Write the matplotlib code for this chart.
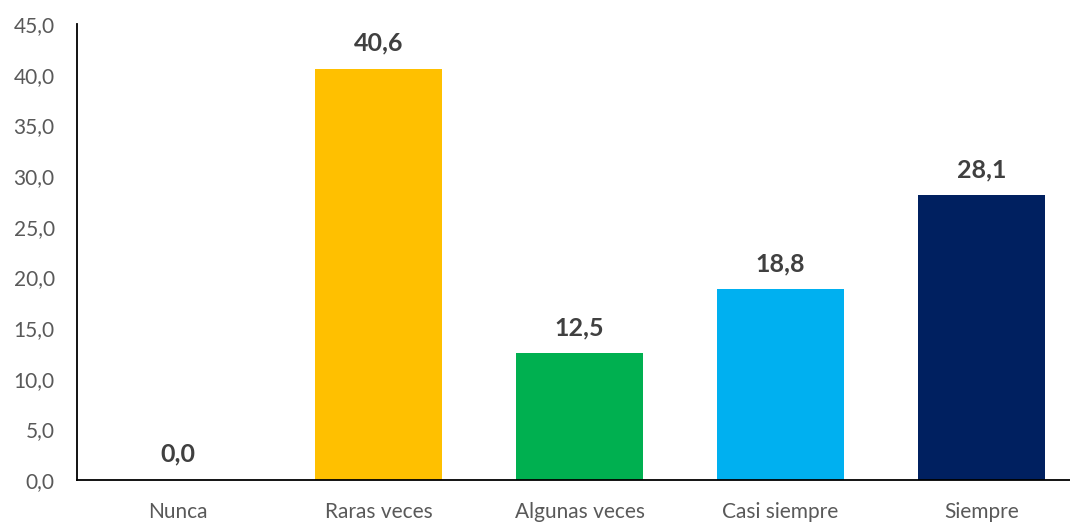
import matplotlib.pyplot as plt

# ================= 数据 =================
CATEGORIES = ["Nunca", "Raras veces", "Algunas veces", "Casi siempre", "Siempre"]
VALUES = [0.0, 40.6, 12.5, 18.8, 28.1]
COLORS = ["#FFC000", "#FFC000", "#00B050", "#00B0F0", "#002060"]
Y_TICKS = [0, 5, 10, 15, 20, 25, 30, 35, 40, 45]

plt.rcParams["font.family"] = ["Lato", "DejaVu Sans"]


def fmt(v):
    return f"{v:.1f}".replace(".", ",")


fig = plt.figure(figsize=(10.70, 5.22), dpi=100)
ax = fig.add_axes([77 / 1070, 42 / 522, 993 / 1070, 456 / 522])

x = range(len(CATEGORIES))
ax.bar(x, VALUES, width=0.63, color=COLORS)

for xi, v in zip(x, VALUES):
    ax.text(xi, v + 1.4, fmt(v), ha="center", va="bottom",
            fontsize=18, fontweight="bold", color="#404040")

ax.set_xlim(-0.5, 4.44)
ax.set_ylim(0, 45)
ax.set_yticks(Y_TICKS)
ax.set_yticklabels([fmt(t) for t in Y_TICKS])
ax.set_xticks(list(x))
ax.set_xticklabels(CATEGORIES)

ax.tick_params(axis="both", length=0, labelsize=15, labelcolor="#595959")
ax.tick_params(axis="x", pad=16)
ax.tick_params(axis="y", pad=16)

for side in ["top", "right"]:
    ax.spines[side].set_visible(False)
for side in ["left", "bottom"]:
    ax.spines[side].set_color("black")
    ax.spines[side].set_linewidth(1.3)

fig.savefig("out.png", dpi=100)
